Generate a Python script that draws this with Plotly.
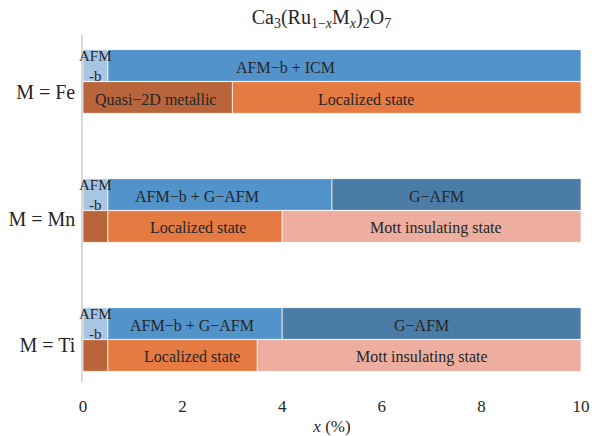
import plotly.graph_objects as go

# ---- data ----
groups = ["M = Fe", "M = Mn", "M = Ti"]
x_ticks = [0, 2, 4, 6, 8, 10]

# magnetic phases (start, end, label, kind)
fe_mag_start = [0, 0.5]
fe_mag_end = [0.5, 10]
fe_mag_label = ["AFM<br>-b", "AFM−b + ICM"]
fe_mag_kind = ["afmb", "mix"]

fe_ele_start = [0, 3]
fe_ele_end = [3, 10]
fe_ele_label = ["Quasi−2D metallic", "Localized state"]
fe_ele_kind = ["metal", "local"]

mn_mag_start = [0, 0.5, 5]
mn_mag_end = [0.5, 5, 10]
mn_mag_label = ["AFM<br>-b", "AFM−b + G−AFM", "G−AFM"]
mn_mag_kind = ["afmb", "mix", "gafm"]

mn_ele_start = [0, 0.5, 4]
mn_ele_end = [0.5, 4, 10]
mn_ele_label = ["", "Localized state", "Mott insulating state"]
mn_ele_kind = ["metal", "local", "mott"]

ti_mag_start = [0, 0.5, 4]
ti_mag_end = [0.5, 4, 10]
ti_mag_label = ["AFM<br>-b", "AFM−b + G−AFM", "G−AFM"]
ti_mag_kind = ["afmb", "mix", "gafm"]

ti_ele_start = [0, 0.5, 3.5]
ti_ele_end = [0.5, 3.5, 10]
ti_ele_label = ["", "Localized state", "Mott insulating state"]
ti_ele_kind = ["metal", "local", "mott"]

# label x positions
fe_mag_lx = [0.26, 4.07]
fe_ele_lx = [1.46, 5.68]
mn_mag_lx = [0.26, 2.29, 7.10]
mn_ele_lx = [0, 2.30, 7.09]
ti_mag_lx = [0.26, 2.18, 6.79]
ti_ele_lx = [0, 2.18, 6.80]

# ---- styles ----
colors = {
    "afmb": "#a8c5e2",
    "mix": "#5193ca",
    "gafm": "#4a7ca7",
    "metal": "#b8653b",
    "local": "#e57b42",
    "mott": "#edae9f",
}
FONT = "Liberation Serif"
TXT = "#262626"
OFF = 0.124
BW = 0.246

rows = [
    (0 - OFF, fe_mag_start, fe_mag_end, fe_mag_label, fe_mag_kind, fe_mag_lx),
    (0 + OFF, fe_ele_start, fe_ele_end, fe_ele_label, fe_ele_kind, fe_ele_lx),
    (1 - OFF, mn_mag_start, mn_mag_end, mn_mag_label, mn_mag_kind, mn_mag_lx),
    (1 + OFF, mn_ele_start, mn_ele_end, mn_ele_label, mn_ele_kind, mn_ele_lx),
    (2 - OFF, ti_mag_start, ti_mag_end, ti_mag_label, ti_mag_kind, ti_mag_lx),
    (2 + OFF, ti_ele_start, ti_ele_end, ti_ele_label, ti_ele_kind, ti_ele_lx),
]

fig = go.Figure()
annotations = []
for yc, starts, ends, labels, kinds, lxs in rows:
    for s, e, lab, k, lx in zip(starts, ends, labels, kinds, lxs):
        fig.add_trace(go.Bar(
            x=[e - s], base=[s], y=[yc], orientation="h", width=BW,
            marker=dict(color=colors[k], line=dict(color="rgba(255,255,255,0.7)", width=1)),
            showlegend=False, hoverinfo="skip",
        ))
        if lab:
            two = "<br>" in lab
            annotations.append(dict(
                x=lx, y=yc, xref="x", yref="y", text=lab, showarrow=False,
                font=dict(family=FONT, size=15 if two else 16, color=TXT),
                xanchor="center", yanchor="middle",
                yshift=0 if two else -1.5,
            ))

fig.update_layout(
    width=592, height=436,
    margin=dict(l=83, r=11, t=35, b=54, autoexpand=False),
    paper_bgcolor="white", plot_bgcolor="white",
    barmode="overlay",
    font=dict(family=FONT, color=TXT),
    title=dict(
        text="Ca<sub>3</sub>(Ru<sub>1−<i>x</i></sub>M<sub><i>x</i></sub>)<sub>2</sub>O<sub>7</sub>",
        x=0.543, xanchor="center", y=0.961, yanchor="middle",
        font=dict(family=FONT, size=20, color=TXT),
    ),
    xaxis=dict(
        range=[0, 10], tickvals=x_ticks, ticktext=[str(v) for v in x_ticks],
        showgrid=False, zeroline=False, showline=False, ticks="",
        tickfont=dict(family=FONT, size=17, color=TXT),
        ticklabelstandoff=12, automargin=False,
        title=dict(text="<i>x</i> (%)", font=dict(family=FONT, size=17, color=TXT), standoff=6),
    ),
    yaxis=dict(
        range=[2.3295, -0.3605], tickvals=[0.085, 1.065, 2.045], ticktext=groups,
        showgrid=False, zeroline=False, showline=True, linecolor="#d9d9d9", linewidth=1.5,
        ticks="", tickfont=dict(family=FONT, size=20, color=TXT),
        ticklabelstandoff=2, automargin=False,
    ),
    annotations=annotations,
)

fig.write_html(
    "out.html",
    config={"displayModeBar": False},
    post_script="document.body.style.margin='0';document.documentElement.style.overflow='hidden';",
)
